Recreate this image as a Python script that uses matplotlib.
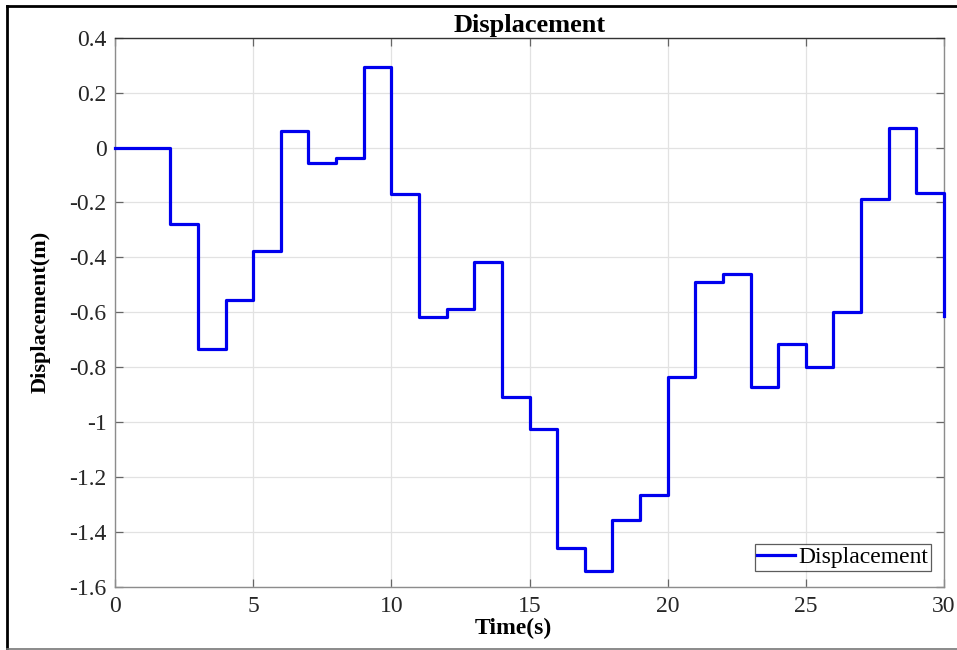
import matplotlib
matplotlib.use("Agg")
import matplotlib.pyplot as plt
from matplotlib.lines import Line2D
from matplotlib.ticker import FuncFormatter

plt.rcParams['font.family'] = ['Liberation Serif', 'DejaVu Serif']
plt.rcParams['axes.unicode_minus'] = False

# Data: time steps (s) and displacement (m), step-wise (held until next sample)
time_s = list(range(0, 31))
displacement_m = [0.0, 0.0, -0.28, -0.735, -0.556, -0.376, 0.06, -0.056, -0.038,
                  0.294, -0.171, -0.617, -0.590, -0.418, -0.910, -1.025, -1.460,
                  -1.542, -1.356, -1.266, -0.836, -0.489, -0.462, -0.871, -0.717,
                  -0.801, -0.600, -0.189, 0.072, -0.165, -0.614]
x_ticks = [0, 5, 10, 15, 20, 25, 30]
y_ticks = [-1.6, -1.4, -1.2, -1.0, -0.8, -0.6, -0.4, -0.2, 0.0, 0.2, 0.4]

fig = plt.figure(figsize=(9.57, 6.5), dpi=100)
ax = fig.add_axes([115/957, 1-586.7/650, (944-115)/957, (586.7-37.7)/650])

ax.step(time_s, displacement_m, where='post', color='#0000ee', linewidth=2.3,
        label='Displacement', clip_on=False, zorder=3)

ax.set_xlim(0, 30)
ax.set_ylim(-1.6, 0.4)
ax.set_xticks(x_ticks)
ax.set_yticks(y_ticks)
ax.xaxis.set_major_formatter(FuncFormatter(lambda v, p: '%g' % round(v, 3)))
ax.yaxis.set_major_formatter(FuncFormatter(lambda v, p: '%g' % round(v, 3)))

ax.grid(True, color='#e2e2e2', linewidth=0.9)
ax.set_axisbelow(True)
ax.tick_params(direction='in', length=6, width=0.9, color='#666666',
               labelsize=17, labelcolor='#262626', top=True, right=True, pad=6)
ax.tick_params(axis='x', pad=7)

for side in ['left', 'right', 'bottom']:
    ax.spines[side].set_color('#8c8c8c')
    ax.spines[side].set_linewidth(1.0)
ax.spines['top'].set_color('#333333')
ax.spines['top'].set_linewidth(1.0)

ax.set_title('Displacement', fontsize=19, fontweight='bold', pad=4)
ax.set_xlabel('Time(s)', fontsize=17, fontweight='bold')
ax.set_ylabel('Displacement(m)', fontsize=16, fontweight='bold')
ax.xaxis.set_label_coords(0.48, -0.057)
ax.yaxis.set_label_coords(-0.078, 0.5)

leg = ax.legend(loc='lower right', fontsize=17, frameon=True, fancybox=False,
                handlelength=1.6, handletextpad=0.15, borderpad=0.1,
                borderaxespad=0.5, bbox_to_anchor=(0.998, 0.008))
leg.get_frame().set_edgecolor('#333333')
leg.get_frame().set_linewidth(0.9)

# outer frame
fig.add_artist(Line2D([7.5/957, 1.0], [1-5.5/650, 1-5.5/650], transform=fig.transFigure,
                      color='black', linewidth=2.0))
fig.add_artist(Line2D([7.5/957, 7.5/957], [1-5.5/650, 1-649/650], transform=fig.transFigure,
                      color='black', linewidth=2.0))
fig.add_artist(Line2D([7.5/957, 1.0], [1-649/650, 1-649/650], transform=fig.transFigure,
                      color='#777777', linewidth=1.2))

fig.savefig('out.png', dpi=100)
